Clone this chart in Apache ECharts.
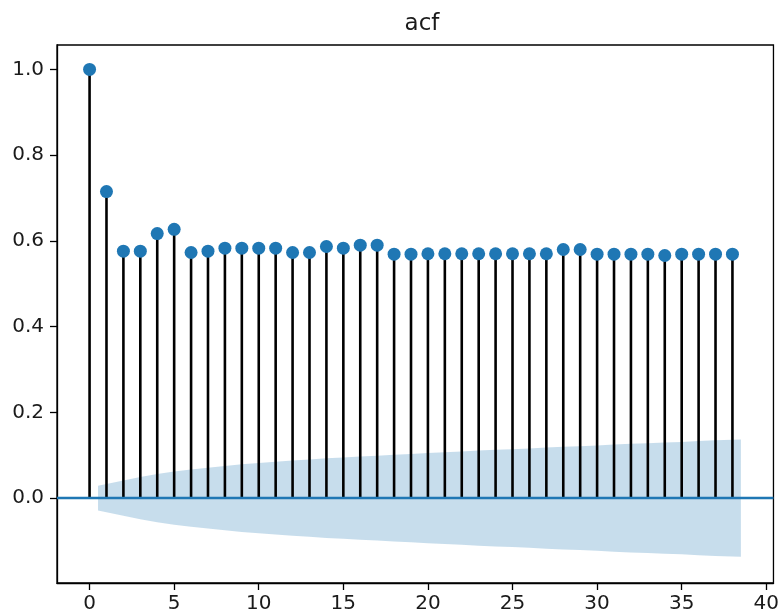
<!DOCTYPE html>
<html>
<head>
<meta charset="utf-8">
<script src="https://cdn.jsdelivr.net/npm/echarts@6/dist/echarts.min.js"></script>
<style>html,body{margin:0;padding:0;background:#fff}#chart{width:782px;height:615px}</style>
</head>
<body>
<div id="chart"></div>
<script>
// ---- data ----
var titleText = 'acf';
var lags = [0,1,2,3,4,5,6,7,8,9,10,11,12,13,14,15,16,17,18,19,20,21,22,23,24,25,26,27,28,29,30,31,32,33,34,35,36,37,38];
var acfValues = [1.0,0.715,0.576,0.576,0.617,0.627,0.573,0.576,0.583,0.583,0.583,0.583,
                 0.573,0.573,0.587,0.583,0.590,0.590,
                 0.569,0.569,0.570,0.570,0.570,0.570,0.570,0.570,0.570,0.570,
                 0.580,0.580,0.569,0.569,0.569,0.569,0.566,0.569,0.569,0.569,0.569];
// confidence band (symmetric about 0)
var bandLags = [0.5,1,2,3,4,5,6,7,8,9,10,11,12,13,14,15,16,17,18,19,20,21,22,23,24,25,26,27,28,29,30,31,32,33,34,35,36,37,38,38.5];
var bandUpper = [0.029,0.033,0.041,0.049,0.056,0.062,0.067,0.071,0.075,0.079,0.082,0.085,0.088,0.090,0.093,0.095,0.097,0.099,0.101,0.103,
                 0.105,0.107,0.109,0.111,0.113,0.114,0.116,0.118,0.120,0.121,0.123,0.125,0.127,0.128,0.130,0.131,0.133,0.135,0.136,0.137];
var xTicks = [0,5,10,15,20,25,30,35,40];
var yTicks = [0.0,0.2,0.4,0.6,0.8,1.0];

var chart = echarts.init(document.getElementById('chart'), null, {renderer:'canvas'});
var txt = '#1a1a1a';
var option = {
  animation: false,
  backgroundColor: '#fff',
  title: {
    text: titleText, left: 417, top: 8, textAlign: 'center',
    textStyle: {fontFamily: 'DejaVu Sans', fontSize: 23, fontWeight: 'normal', color: txt}
  },
  grid: {left: 57, right: 5, top: 45, bottom: 32, show: true, borderColor: '#000', borderWidth: 1.3},
  xAxis: {
    type: 'value', min: -1.925, max: 40.425,
    axisLine: {show: true, onZero: false, lineStyle: {color: '#000', width: 1.3}},
    axisTick: {show: true, length: 7, customValues: xTicks, lineStyle: {color: '#000', width: 1.3}},
    axisLabel: {customValues: xTicks, margin: 11, fontFamily: 'DejaVu Sans', fontSize: 20, color: txt},
    splitLine: {show: false}
  },
  yAxis: {
    type: 'value', min: -0.198, max: 1.057,
    axisLine: {show: true, onZero: false, lineStyle: {color: '#000', width: 1.3}},
    axisTick: {show: true, length: 7, customValues: yTicks, lineStyle: {color: '#000', width: 1.3}},
    axisLabel: {customValues: yTicks, margin: 13, fontFamily: 'DejaVu Sans', fontSize: 20, color: txt,
      formatter: function (v) { return v.toFixed(1); }},
    splitLine: {show: false}
  },
  series: [
    {
      type: 'custom', z: 1, silent: true,
      data: [0],
      renderItem: function (params, api) {
        var pts = [];
        for (var i = 0; i < bandLags.length; i++) pts.push(api.coord([bandLags[i], bandUpper[i]]));
        for (var j = bandLags.length - 1; j >= 0; j--) pts.push(api.coord([bandLags[j], -bandUpper[j]]));
        return {type: 'polygon', shape: {points: pts}, style: {fill: 'rgba(31,119,180,0.25)', stroke: null}};
      },
      markLine: {
        silent: true, symbol: ['none','none'], label: {show: false},
        lineStyle: {color: '#1f77b4', width: 2.4, type: 'solid'},
        data: [{yAxis: 0}]
      }
    },
    {
      type: 'custom', z: 3, silent: true,
      data: lags.map(function (l, i) { return [l, acfValues[i]]; }),
      renderItem: function (params, api) {
        var p0 = api.coord([api.value(0), 0]);
        var p1 = api.coord([api.value(0), api.value(1)]);
        return {type: 'line', shape: {x1: p0[0], y1: p0[1], x2: p1[0], y2: p1[1]},
                style: {stroke: '#000', lineWidth: 2.6}};
      }
    },
    {
      type: 'scatter', z: 4, silent: true,
      symbol: 'circle', symbolSize: 13,
      itemStyle: {color: '#1f77b4', opacity: 1},
      data: lags.map(function (l, i) { return [l, acfValues[i]]; })
    }
  ]
};
chart.setOption(option);
</script>
</body>
</html>
